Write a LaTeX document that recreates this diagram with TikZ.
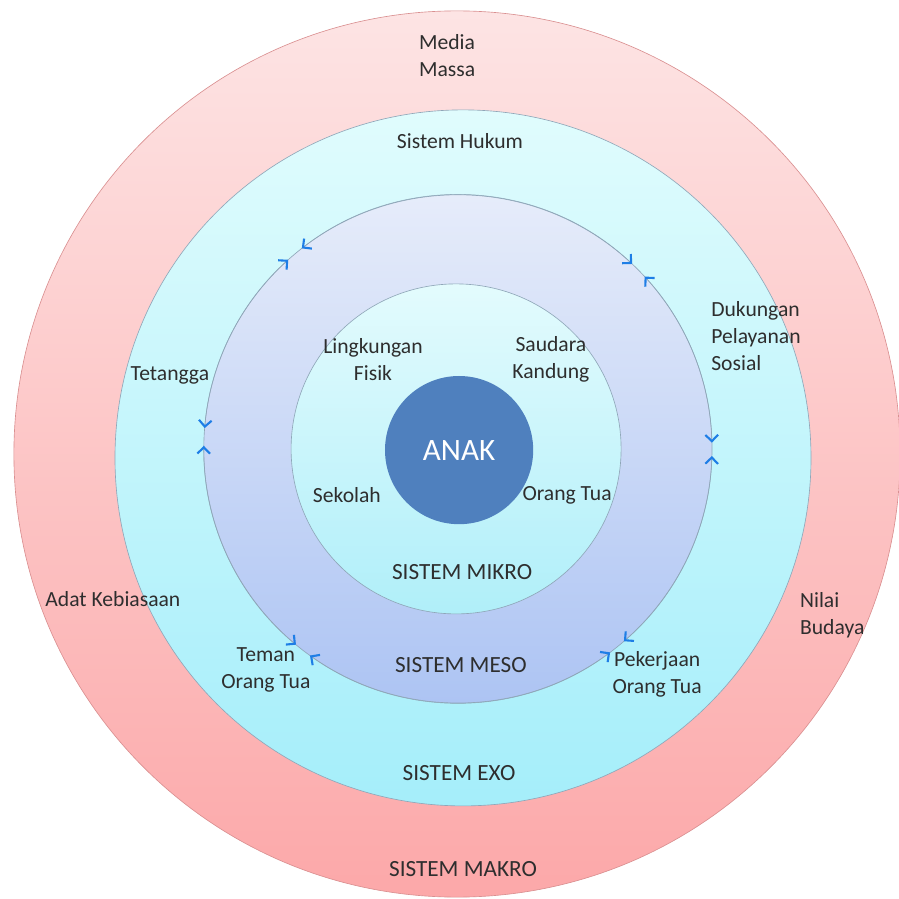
\documentclass[tikz,border=0pt]{standalone}
\usepackage{fontspec}
\setmainfont{Carlito}
\usetikzlibrary{arrows.meta}
\definecolor{makrotop}{HTML}{FDE4E4}
\definecolor{makrobot}{HTML}{FCA8A9}
\definecolor{makroline}{HTML}{D98F90}
\definecolor{exotop}{HTML}{E0FCFD}
\definecolor{exobot}{HTML}{A5EEFA}
\definecolor{mesotop}{HTML}{E6ECFA}
\definecolor{mesobot}{HTML}{ADC4F3}
\definecolor{mikrotop}{HTML}{E3FBFD}
\definecolor{mikrobot}{HTML}{B0EFF9}
\definecolor{ringline}{HTML}{8FA6B8}
\definecolor{anakfill}{HTML}{4F80BE}
\definecolor{tipblue}{HTML}{1E7EE6}
\definecolor{txtgray}{HTML}{2E2E2E}
\begin{document}
\begin{tikzpicture}[
  lbl/.style={font=\fontsize{20.5}{25.6}\selectfont, text=txtgray, align=center, inner sep=0pt},
  sys/.style={lbl, font=\fontsize{22}{26}\selectfont},
  ring/.style={draw=#1, line width=0.6pt},
  link/.style={draw=ringline, line width=0.5pt,
    >={Straight Barb[length=6pt,width=12pt,line width=2pt,color=tipblue]}, <->}
]
  \useasboundingbox (-15.233,-14.933) rectangle (14.733,15.033);
  % rings, outside in
  \draw[ring=makroline, top color=makrotop, bottom color=makrobot] (0,-0.1) circle[radius=14.77];
  \draw[ring=ringline, top color=exotop, bottom color=exobot] (0.2,-0.23) circle[radius=11.6];
  \coordinate (meso) at (0.03,0.07);
  \draw[ring=ringline, top color=mesotop, bottom color=mesobot] (meso) circle[radius=8.47];
  \draw[ring=ringline, top color=mikrotop, bottom color=mikrobot] (-0.03,0.07) circle[radius=5.5];
  \node[circle, fill=anakfill, minimum size=4.94cm, inner sep=0pt, text=white,
        font=\fontsize{29.5}{32}\selectfont] (anak) at (0.07,0.03) {ANAK};
  % links on the meso ring
  \foreach \a/\b in {1.4/42.7, 46.7/127.9, 131.9/175.3, 179.3/230.4, 234.4/306.8, 310.8/358.4}
    \draw[link, shift={(meso)}] (\a:8.47) arc[start angle=\a, end angle=\b, radius=8.47];
  % makro
  \node[lbl] (media) at (-0.33,13.17) {Media\\Massa};
  \node[lbl] (adat) at (-11.47,-4.93) {Adat Kebiasaan};
  \node[lbl, anchor=west, align=left] (nilai) at (11.43,-5.48) {Nilai\\Budaya};
  \node[sys] (makro) at (0.2,-13.93) {SISTEM MAKRO};
  % exo
  \node[lbl] (hukum) at (0.1,10.33) {Sistem Hukum};
  \node[lbl] (tetangga) at (-9.57,2.53) {Tetangga};
  \node[lbl, anchor=west, align=left] (dukungan) at (8.47,3.83) {Dukungan\\Pelayanan\\Sosial};
  \node[lbl] (teman) at (-6.37,-7.3) {Teman\\Orang Tua};
  \node[lbl] (kerja) at (6.67,-7.43) {Pekerjaan\\Orang Tua};
  \node[sys] (exo) at (0.07,-10.73) {SISTEM EXO};
  % meso
  \node[sys] (mesotxt) at (0.13,-7.13) {SISTEM MESO};
  % mikro
  \node[lbl] (fisik) at (-2.8,3.05) {Lingkungan\\Fisik};
  \node[lbl] (saudara) at (3.13,3.05) {Saudara\\Kandung};
  \node[lbl] (sekolah) at (-3.67,-1.47) {Sekolah};
  \node[lbl] (ortu) at (3.67,-1.47) {Orang Tua};
  \node[sys] (mikro) at (0.17,-4.03) {SISTEM MIKRO};
\end{tikzpicture}
\end{document}
